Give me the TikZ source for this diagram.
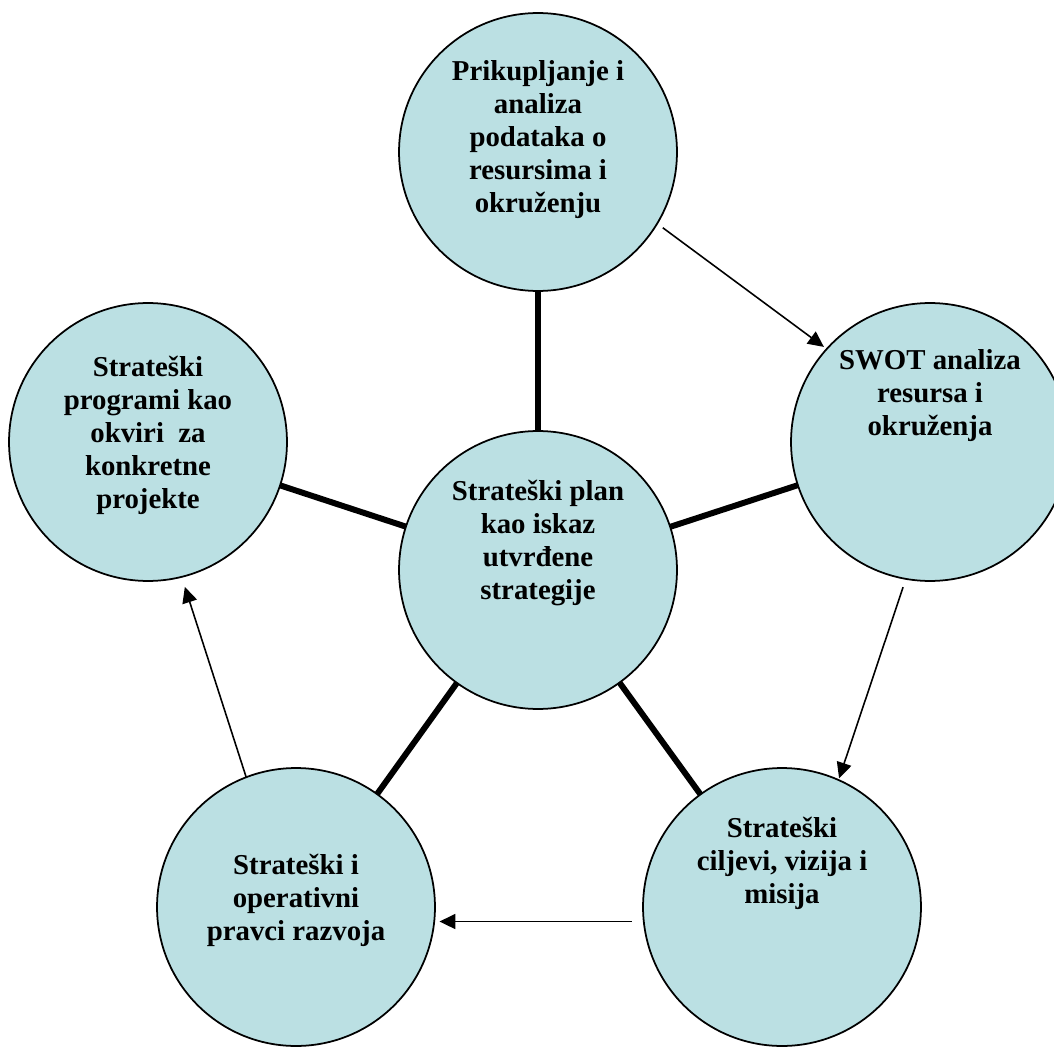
\documentclass[tikz,border=0pt]{standalone}
\usepackage{fontspec}
\setmainfont{Liberation Serif}
\usepackage{xcolor}
\usetikzlibrary{arrows.meta}
\definecolor{krugplava}{RGB}{187,224,227}

\begin{document}
\begin{tikzpicture}[x=0.02cm, y=0.02cm,
    krug/.style={circle, draw=black, line width=1pt, fill=krugplava,
      minimum size=5.56cm, inner sep=0pt, outer sep=0pt},
    tekst/.style={align=center, font=\fontsize{16.4}{18.8}\selectfont\bfseries},
    veza/.style={line width=3.4pt},
    strelica/.style={line width=0.9pt, -{Triangle[length=9pt,width=8.5pt]}}]
  \useasboundingbox (0,0) rectangle (1054,1046);

  % krugovi
  \node[krug] (prik)    at (538,894) {};
  \node[krug] (swot)    at (930,604) {};
  \node[krug] (program) at (148,604) {};
  \node[krug] (plan)    at (538,476) {};
  \node[krug] (pravci)  at (296,139) {};
  \node[krug] (ciljevi) at (782,139) {};

  % tekstovi
  \node[tekst] (tprik)    at (538,906) {Prikupljanje i\\analiza\\podataka o\\resursima i\\okruženju};
  \node[tekst] (tswot)    at (930,650) {SWOT analiza\\resursa i\\okruženja};
  \node[tekst] (tprogram) at (148,611) {Strateški\\programi kao\\okviri~ za\\konkretne\\projekte};
  \node[tekst] (tplan)    at (538,503) {Strateški plan\\kao iskaz\\utvrđene\\strategije};
  \node[tekst] (tpravci)  at (296,146) {Strateški i\\operativni\\pravci razvoja};
  \node[tekst] (tciljevi) at (782,183) {Strateški\\ciljevi, vizija i\\misija};

  % debele veze prema sredini
  \draw[veza] (plan) -- (prik);
  \draw[veza] (plan) -- (swot);
  \draw[veza] (plan) -- (program);
  \draw[veza] (plan) -- (pravci);
  \draw[veza] (plan) -- (ciljevi);

  % strelice u krugu
  \draw[strelica, shorten <=4pt, shorten >=2pt] (prik.-31) -- (swot.138);
  \draw[strelica, shorten <=5pt, shorten >=1pt] (swot.-100) -- (ciljevi.66);
  \draw[strelica, shorten <=7pt, shorten >=3pt] (ciljevi.186.5) -- (pravci.-6.4);
  \draw[strelica, shorten >=6pt] (pravci.111) -- (program.-76);
\end{tikzpicture}
\end{document}
